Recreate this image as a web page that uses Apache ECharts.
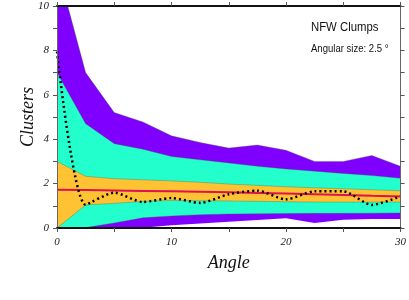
<!DOCTYPE html>
<html>
<head>
<meta charset="utf-8">
<script src="https://cdn.jsdelivr.net/npm/echarts@6/dist/echarts.min.js"></script>
<style>
html,body{margin:0;padding:0;background:#fff;}
#chart{width:409px;height:300px;}
</style>
</head>
<body>
<div id="chart"></div>
<script>
// ---- data ----
var angles = [0, 2.5, 5, 7.5, 10, 12.5, 15, 17.5, 20, 22.5, 25, 27.5, 30];
var purpleTop    = [11.8, 7.0, 5.2, 4.78, 4.15, 3.85, 3.6, 3.74, 3.5, 3.0, 3.0, 3.27, 2.78];
var cyanTop      = [7.0, 4.7, 3.8, 3.55, 3.22, 3.07, 2.93, 2.78, 2.66, 2.56, 2.46, 2.36, 2.24];
var orangeTop    = [3.0, 2.33, 2.22, 2.17, 2.12, 2.06, 1.98, 1.92, 1.86, 1.81, 1.77, 1.72, 1.68];
var orangeBottom = [0, 1.04, 1.11, 1.2, 1.24, 1.23, 1.22, 1.2, 1.18, 1.17, 1.17, 1.17, 1.17];
var cyanBottom   = [0, 0.02, 0.23, 0.46, 0.54, 0.6, 0.63, 0.64, 0.65, 0.66, 0.66, 0.67, 0.68];
var purpleBottom = [0, 0, 0, 0.01, 0.12, 0.2, 0.28, 0.36, 0.44, 0.22, 0.37, 0.4, 0.41];
var meanLine     = [1.72, 1.71, 1.69, 1.67, 1.65, 1.63, 1.61, 1.58, 1.55, 1.52, 1.49, 1.45, 1.42];
var observed     = [7.95, 1.05, 1.59, 1.17, 1.35, 1.13, 1.52, 1.68, 1.29, 1.65, 1.65, 1.04, 1.43];
var xLabels = [0, 10, 20, 30];
var yLabels = [0, 2, 4, 6, 8, 10];
var titleText = 'NFW Clumps';
var subText = 'Angular size: 2.5 \u00B0';

function pairs(vals){ return angles.map(function(a,i){ return [a, vals[i]]; }); }

var PURPLE = '#7f00ff', CYAN = '#22ffcc', ORANGE = '#ffc233';
var edge = {width:0.6, color:'rgba(70,90,70,0.55)'};

// layered fills: each boundary filled down to the axis, drawn from the outermost inward
function layer(name, vals, color, z){
  return {name:name, type:'line', data:pairs(vals), symbol:'none', smooth:false,
    lineStyle:(color === '#ffffff') ? {width:0} : edge,
    areaStyle:{color:color, opacity:1, origin:'start'}, z:z, silent:true};
}

var chart = echarts.init(document.getElementById('chart'), null, {renderer:'canvas'});
var tickFont = {fontFamily:'Liberation Serif', fontStyle:'italic', fontSize:11, color:'#222'};

chart.setOption({
  animation:false,
  grid:{left:57, right:5, top:6, bottom:72},
  graphic:[
    {type:'text', z:100, x:311, y:20, scaleX:0.84,
     style:{text:titleText, font:'13.5px "Liberation Sans"', fill:'#111'}},
    {type:'text', z:100, x:311, y:43, scaleX:0.83,
     style:{text:subText, font:'11.5px "Liberation Sans"', fill:'#111'}}
  ],
  xAxis:[
    {type:'value', min:0, max:30, interval:5, position:'bottom', z:20,
     name:'Angle', nameLocation:'middle', nameGap:26, nameMoveOverlap:false,
     nameTextStyle:{fontFamily:'Liberation Serif', fontStyle:'italic', fontSize:18, color:'#111'},
     axisLine:{show:true, onZero:false, lineStyle:{color:'#111', width:2}},
     axisTick:{show:true, inside:false, length:4, lineStyle:{color:'#555', width:1}},
     axisLabel:Object.assign({margin:9, formatter:function(v){ return xLabels.indexOf(v)>=0 ? String(v) : ''; }}, tickFont),
     splitLine:{show:false}},
    {type:'value', min:0, max:30, interval:5, position:'top', z:20,
     axisLine:{show:true, onZero:false, lineStyle:{color:'#111', width:2}},
     axisTick:{show:true, inside:false, length:4, lineStyle:{color:'#555', width:1}},
     axisLabel:{show:false}, splitLine:{show:false}}
  ],
  yAxis:[
    {type:'value', min:0, max:10, interval:1, position:'left', z:20,
     name:'Clusters', nameLocation:'middle', nameGap:20, nameMoveOverlap:false,
     nameTextStyle:{fontFamily:'Liberation Serif', fontStyle:'italic', fontSize:18, color:'#111'},
     axisLine:{show:true, onZero:false, lineStyle:{color:'#666', width:1}},
     axisTick:{show:true, inside:false, length:4, lineStyle:{color:'#555', width:1}},
     axisLabel:Object.assign({margin:8, formatter:function(v){ return yLabels.indexOf(v)>=0 ? String(v) : ''; }}, tickFont),
     splitLine:{show:false}},
    {type:'value', min:0, max:10, interval:1, position:'right', z:20,
     axisLine:{show:true, onZero:false, lineStyle:{color:'#666', width:1}},
     axisTick:{show:true, inside:false, length:4, lineStyle:{color:'#555', width:1}},
     axisLabel:{show:false}, splitLine:{show:false}}
  ],
  series:[
    layer('purple high', purpleTop, PURPLE, 2),
    layer('cyan high', cyanTop, CYAN, 3),
    layer('orange', orangeTop, ORANGE, 4),
    layer('cyan low', orangeBottom, CYAN, 5),
    layer('purple low', cyanBottom, PURPLE, 6),
    layer('base', purpleBottom, '#ffffff', 7),
    {name:'mean', type:'line', data:pairs(meanLine), symbol:'none',
     lineStyle:{color:'#dd1155', width:2}, z:8, silent:true},
    {name:'observed', type:'line', data:pairs(observed), symbol:'none', smooth:0.25,
     lineStyle:{color:'#000', width:2.5, type:[2,3], cap:'butt'}, z:9, silent:true}
  ]
});
</script>
</body>
</html>
